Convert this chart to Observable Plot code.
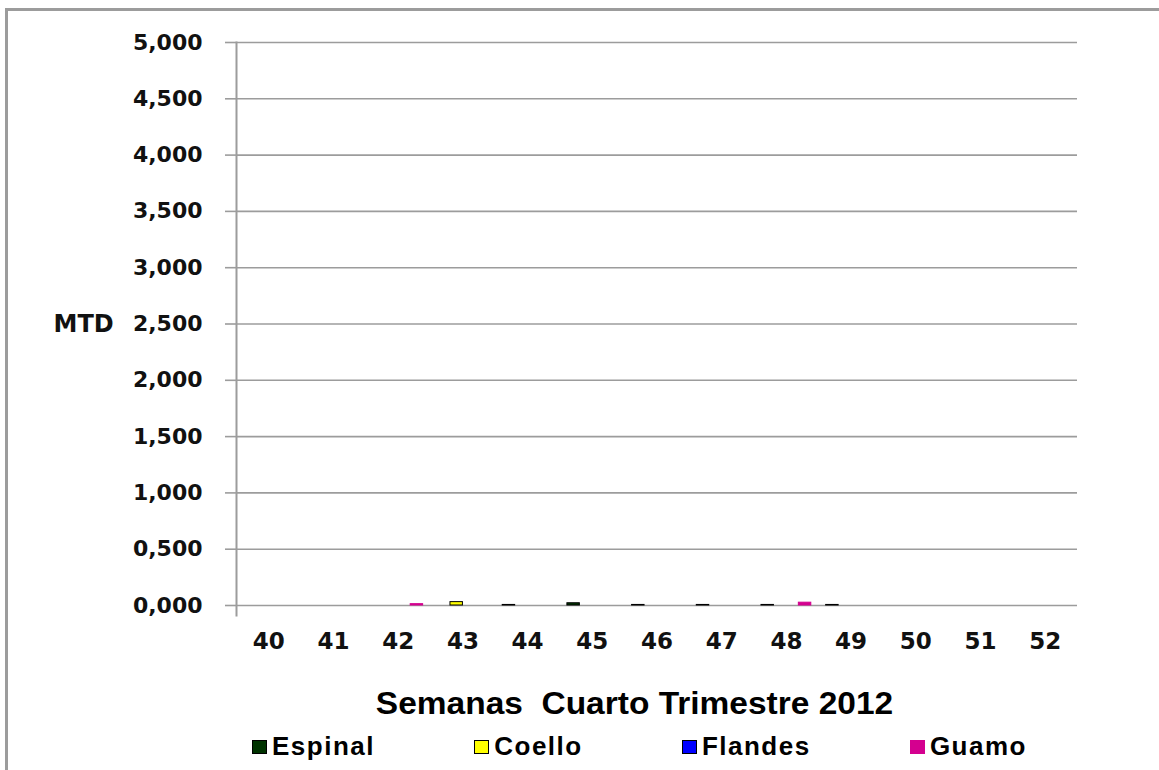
<!DOCTYPE html>
<html>
<head>
<meta charset="utf-8">
<script src="https://cdn.jsdelivr.net/npm/d3@7"></script>
<script src="https://cdn.jsdelivr.net/npm/@observablehq/plot@0.6"></script>
<style>
  html, body { margin: 0; padding: 0; background: #fff; }
  #page { position: relative; width: 1159px; height: 770px; overflow: hidden; }
  #border { position: absolute; left: 5px; top: 8px; width: 1300px; height: 900px;
            border-left: 3px solid #9c9c9c; border-top: 3px solid #9c9c9c; }
  #chart, #bars { position: absolute; left: 0; top: 0; }
  #title { position: absolute; left: 0; width: 1270px; top: 686px; text-align: center;
           font-family: "Liberation Sans", Arial, sans-serif; font-weight: bold; font-size: 31px;
           white-space: pre; color: #000; }
  #title span { display: inline-block; transform: scaleX(1.08); }
  #legend { position: absolute; left: 252px; width: 775px; top: 731px; display: flex;
            justify-content: space-between; align-items: center;
            font-family: "Liberation Sans", Arial, sans-serif; font-weight: bold; font-size: 26px;
            letter-spacing: 1.5px; color: #000; }
  .item { display: flex; align-items: center; }
  .sw { width: 15px; height: 14px; margin-right: 5px; box-sizing: border-box; border: 1px solid #000; }
</style>
</head>
<body>
<div id="page">
  <div id="border"></div>
  <div id="chart"></div>
  <div id="bars"></div>
  <div id="title"></div>
  <div id="legend"></div>
</div>
<script>
const weeks = ["40", "41", "42", "43", "44", "45", "46", "47", "48", "49", "50", "51", "52"];
const series = ["Espinal", "Coello", "Flandes", "Guamo"];
const colors = ["#003300", "#FFFF00", "#0000FF", "#D4008F"];
const strokes = ["#000000", "#000000", "#000000", "#D4008F"];
const espinal = [0, 0, 0, 0, 0.005, 0.02, 0.005, 0.005, 0.005, 0.005, 0, 0, 0];
const coello  = [0, 0, 0, 0.03, 0, 0, 0, 0, 0, 0, 0, 0, 0];
const flandes = [0, 0, 0, 0, 0, 0, 0, 0, 0, 0, 0, 0, 0];
const guamo   = [0, 0, 0.012, 0, 0, 0, 0, 0, 0.025, 0, 0, 0, 0];
const yTicks = [0, 0.5, 1, 1.5, 2, 2.5, 3, 3.5, 4, 4.5, 5];
const yLabel = "MTD";
const xTitle = "Semanas  Cuarto Trimestre 2012";

const valuesBySeries = [espinal, coello, flandes, guamo];
const rows = [];
series.forEach((s, i) => weeks.forEach((w, j) => {
  const v = valuesBySeries[i][j];
  if (v > 0) rows.push({week: w, series: s, value: v});
}));

const fmt = d => d.toFixed(3).replace(".", ",");

const common = {
  width: 1159,
  height: 680,
  marginLeft: 236,
  marginRight: 82,
  marginTop: 42,
  marginBottom: 75,
  style: {fontFamily: "'DejaVu Sans', Verdana, sans-serif", fontWeight: "bold", fontSize: "22px",
          color: "#111", background: "transparent", overflow: "visible"},
  y: {domain: [0, 5], axis: null}
};

// axes, grid and labels
const base = Plot.plot({
  ...common,
  x: {domain: weeks, paddingInner: 0.23, paddingOuter: 0.115, round: false, axis: null},
  marks: [
    Plot.ruleY(yTicks, {y: d => d, stroke: "#9c9c9c", strokeWidth: 1.6}),
    Plot.axisY({ticks: yTicks, tickFormat: fmt, tickSize: 11, tickPadding: 23,
                stroke: "#9c9c9c", strokeWidth: 1.6, fill: "#111", label: null}),
    Plot.frame({anchor: "left", stroke: "#9c9c9c", strokeWidth: 2, insetBottom: -10}),
    Plot.text([yLabel], {text: d => d, y: () => 2.5, frameAnchor: "left",
                         dx: -183, textAnchor: "start", fill: "#111", fontSize: 24,
                         letterSpacing: "2px"}),
    Plot.axisX({tickSize: 0, tickPadding: 27, label: null, fill: "#111", fontSize: 23})
  ]
});
document.getElementById("chart").appendChild(base);

// grouped bars
const bars = Plot.plot({
  ...common,
  fx: {domain: weeks, paddingInner: 0.23, paddingOuter: 0.115, round: false, axis: null, label: null},
  x: {domain: series, axis: null, padding: 0, round: false},
  color: {domain: series, range: colors},
  marks: [
    Plot.barY(rows, {fx: "week", x: "series", y: "value", fill: "series",
                     stroke: d => strokes[series.indexOf(d.series)], strokeWidth: 1})
  ]
});
document.getElementById("bars").appendChild(bars);

const titleSpan = document.createElement("span");
titleSpan.textContent = xTitle;
document.getElementById("title").appendChild(titleSpan);

const legend = document.getElementById("legend");
series.forEach((s, i) => {
  const item = document.createElement("div");
  item.className = "item";
  const sw = document.createElement("span");
  sw.className = "sw";
  sw.style.background = colors[i];
  sw.style.borderColor = strokes[i];
  const t = document.createElement("span");
  t.textContent = s;
  item.appendChild(sw); item.appendChild(t);
  legend.appendChild(item);
});
</script>
</body>
</html>
